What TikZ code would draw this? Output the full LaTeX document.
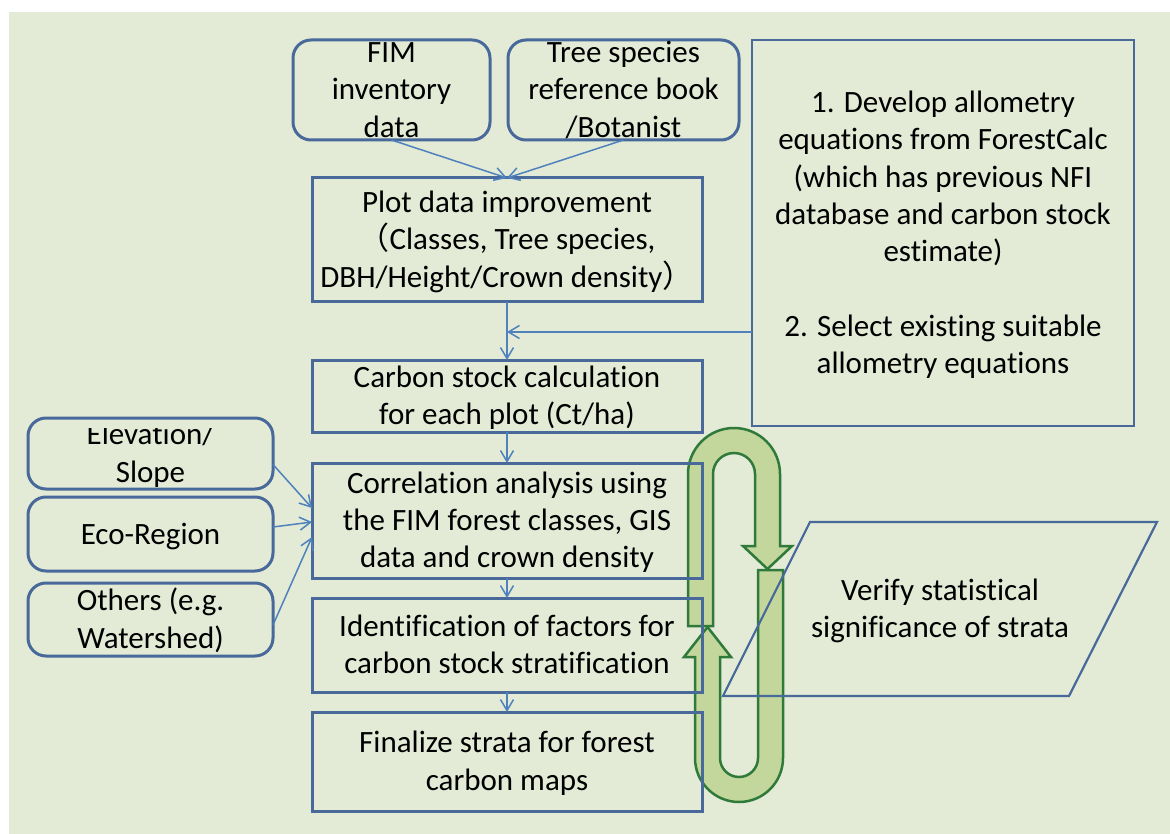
\documentclass[tikz,border=0pt]{standalone}
\usepackage{fontspec}
\setmainfont{Carlito}[Ligatures={NoCommon}]
\newfontfamily\cjk{Noto Sans CJK JP}
\usetikzlibrary{arrows.meta}
\definecolor{bg}{HTML}{E3EBD7}
\definecolor{boxblue}{HTML}{48699A}
\definecolor{linkblue}{HTML}{4F81BD}
\definecolor{loopfill}{HTML}{C3D69B}
\definecolor{loopdraw}{HTML}{2F7A3A}
% line strut: every text line gets the same ascent and descent
\newcommand\ls{\rule[-8.5pt]{0pt}{37pt}}
\begin{document}
\begin{tikzpicture}[x=1pt,y=-1pt,
  every node/.style={font=\fontsize{31}{37.3}\selectfont, inner sep=0pt, outer sep=0pt, align=center},
  rbox/.style={draw=boxblue, line width=3pt, rounded corners=18pt},
  sbox/.style={draw=boxblue, line width=3pt},
  link/.style={draw=linkblue, line width=1.5pt, -{Straight Barb[length=11pt,width=13pt]}},
  uturn/.style={fill=loopfill, draw=loopdraw, line width=2.5pt, line join=miter}]

% page and panel background
\fill[white] (0,0) rectangle (1170,834);
\fill[bg] (9,12) rectangle (1170,834);
\useasboundingbox (0,0) rectangle (1170,834);

% feedback loop: two U-turn arrows
\draw[uturn] (688,626) -- (688,474) arc[start angle=180, end angle=360, radius=46]
  -- (780,546) -- (792,546) -- (767.5,569) -- (743,546) -- (755,546) -- (755,474)
  arc[start angle=360, end angle=180, radius=21] -- (713,626) -- cycle;
\draw[uturn] (758,570) -- (758,758) arc[start angle=0, end angle=180, radius=19]
  -- (720,657) -- (731,657) -- (707.5,627) -- (684,657) -- (695,657) -- (695,758)
  arc[start angle=180, end angle=0, radius=44] -- (783,570) -- cycle;

% boxes (frames only; their texts follow below)
\node[rbox, minimum width=197pt, minimum height=100pt] (fim) at (391.5,90) {};
\node[rbox, minimum width=231pt, minimum height=100pt] (tree) at (623.5,90) {};
\node[sbox, minimum width=390pt, minimum height=124pt] (plot) at (507,240) {};
\node[sbox, minimum width=390pt, minimum height=72pt] (carbon) at (507,396) {};
\node[sbox, minimum width=390pt, minimum height=115pt] (corr) at (507,520.5) {};
\node[sbox, minimum width=390pt, minimum height=94pt] (ident) at (507,645) {};
\node[sbox, minimum width=390pt, minimum height=99pt] (final) at (507,761.5) {};
\node[sbox, line width=2.7pt, minimum width=382pt, minimum height=386pt] (allo) at (943,233) {};
\node[rbox, minimum width=245pt, minimum height=71pt] (elev) at (150.5,453.5) {};
\node[rbox, minimum width=245pt, minimum height=74pt] (eco) at (150.5,534) {};
\node[rbox, minimum width=245pt, minimum height=73pt] (oth) at (150.5,619.5) {};

% verification step
\coordinate (vtl) at (810,522);
\coordinate (vtr) at (1157,522);
\coordinate (vbr) at (1069,696);
\coordinate (vbl) at (723,696);
\draw[draw=boxblue, line width=2.2pt, line join=miter] (vtl) -- (vtr) -- (vbr) -- (vbl) -- cycle;

% texts
\node (fimtext) at (fim) {\ls FIM\\\ls inventory\\\ls data};
\node (treetext) at (tree) {\ls Tree species\\\ls reference book\\\ls /Botanist};
\node (plottext) at (plot)
  {\ls Plot data improvement\\\ls{\cjk （}Classes, Tree species,\\\ls DBH/Height/Crown density{\cjk ）}};
\node (carbontext) at (carbon) {\ls Carbon stock calculation\\\ls for each plot (Ct/ha)};
\node (corrtext) at (corr)
  {\ls Correlation analysis using\\\ls the FIM forest classes, GIS\\\ls data and crown density};
\node (identtext) at (ident) {\ls Identification of factors for\\\ls carbon stock stratification};
\node (finaltext) at (final) {\ls Finalize strata for forest\\\ls carbon maps};
\node (allotext) at (allo)
  {\ls 1. Develop allometry\\\ls equations from ForestCalc\\\ls (which has previous NFI\\\ls database and carbon stock\\\ls estimate)\\[37.3pt]\ls 2. Select existing suitable\\\ls allometry equations};
\begin{scope}
  \clip (28,428) rectangle (273,489);
  \node (elevtext) at (elev) {\ls Elevation/\\\ls Slope};
\end{scope}
\node (ecotext) at (eco) {\ls Eco-Region};
\node (othtext) at (oth) {\ls Others (e.g.\\\ls Watershed)};
\node (verify) at (940,609) {\ls Verify statistical\\\ls significance of strata};

% connectors
\draw[link] (fim.south) -- (plot.north);
\draw[link] (tree.south) -- (plot.north);
\draw[link] (plot.south) -- (carbon.north);
\coordinate (feed) at ([yshift=-99pt]allo.west);
\draw[link] (feed) -- (feed -| plot.south);
\draw[link] (carbon.south) -- (corr.north);
\draw[link] (corr.south) -- (ident.north);
\draw[link] (ident.south) -- (final.north);
\draw[link] ([yshift=-11pt]elev.east) -- ([yshift=12.5pt]corr.west);
\draw[link] ([yshift=7pt]eco.east) -- ([yshift=-1.5pt]corr.west);
\draw[link] ([yshift=-5.5pt]oth.east) -- ([yshift=-16.5pt]corr.west);
\end{tikzpicture}
\end{document}
